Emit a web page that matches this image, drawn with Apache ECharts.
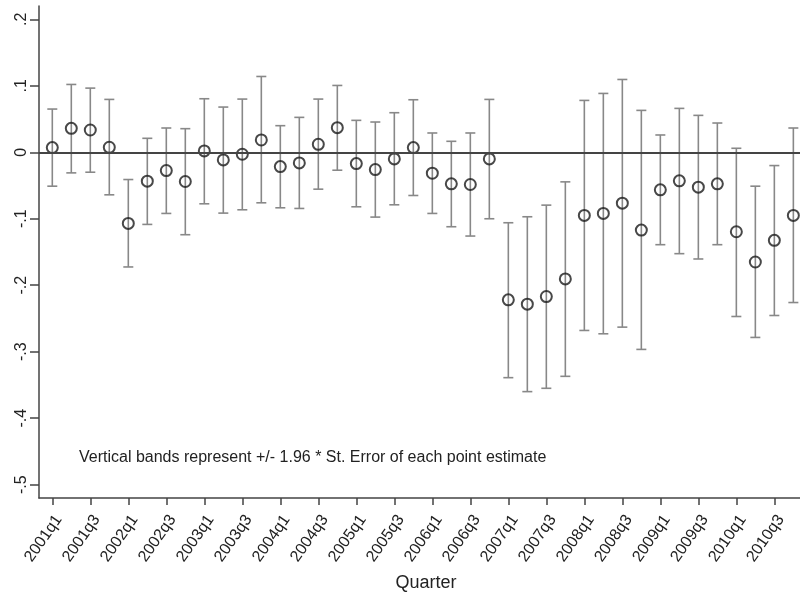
<!DOCTYPE html>
<html>
<head>
<meta charset="utf-8">
<script src="https://cdn.jsdelivr.net/npm/echarts@6/dist/echarts.min.js"></script>
<style>
  html, body { margin: 0; padding: 0; background: #fff; }
  #chart { width: 800px; height: 595px; }
</style>
</head>
<body>
<div id="chart"></div>
<script>
// quarters 2001q1 .. 2010q4
const quarters = [];
for (let y = 2001; y <= 2010; y++) {
  for (let q = 1; q <= 4; q++) quarters.push(y + "q" + q);
}

// point estimates
const estimates = [
  0.007, 0.036, 0.0335, 0.0075, -0.107, -0.0435, -0.0275, -0.044, 0.002, -0.0115,
  -0.003, 0.0185, -0.0215, -0.016, 0.012, 0.037, -0.017, -0.026, -0.010, 0.007,
  -0.0315, -0.0475, -0.0485, -0.010, -0.222, -0.2285, -0.217, -0.1905, -0.095, -0.092,
  -0.0765, -0.117, -0.0565, -0.043, -0.0525, -0.0475, -0.1195, -0.165, -0.1325, -0.095
];
// upper ends of the bands
const upper = [
  0.065, 0.102, 0.0965, 0.0795, -0.041, 0.021, 0.0365, 0.0355, 0.0805, 0.068,
  0.080, 0.114, 0.040, 0.0525, 0.080, 0.1005, 0.048, 0.0455, 0.0595, 0.079,
  0.029, 0.0165, 0.029, 0.0795, -0.106, -0.097, -0.0795, -0.0445, 0.078, 0.0885,
  0.1095, 0.063, 0.026, 0.066, 0.0555, 0.044, 0.006, -0.051, -0.020, 0.0365
];
// lower ends of the bands
const lower = [
  -0.051, -0.031, -0.030, -0.064, -0.1725, -0.1085, -0.092, -0.124, -0.0775, -0.0915,
  -0.0865, -0.076, -0.0835, -0.0845, -0.0555, -0.027, -0.082, -0.0975, -0.079, -0.065,
  -0.092, -0.112, -0.126, -0.100, -0.339, -0.360, -0.355, -0.337, -0.268, -0.273,
  -0.263, -0.2965, -0.139, -0.1525, -0.1605, -0.139, -0.247, -0.2785, -0.2455, -0.226
];

const yTicks = [-0.5, -0.4, -0.3, -0.2, -0.1, 0, 0.1, 0.2];
const xTicks = quarters.map((q, i) => i).filter(i => i % 2 === 0);

function fmtY(v) {
  if (Math.abs(v) < 1e-9) return "0";
  return v.toFixed(1).replace("0.", ".");
}

const chart = echarts.init(document.getElementById("chart"));

const options = {
  animation: false,
  backgroundColor: "#fff",
  textStyle: { fontFamily: "Liberation Sans, Arial, sans-serif" },
  grid: { left: 39, right: 0, top: 6, bottom: 97, containLabel: false, outerBoundsMode: "none" },
  xAxis: {
    type: "value",
    min: -0.7,
    max: 39.35,
    name: "Quarter",
    nameLocation: "middle",
    nameGap: 76,
    nameTextStyle: { fontSize: 18, color: "#222", padding: [0, 0, 0, 13] },
    axisLine: { show: true, onZero: false, lineStyle: { color: "#444", width: 1.5 } },
    axisTick: { show: true, length: 7, customValues: xTicks, lineStyle: { color: "#444", width: 1.5 } },
    axisLabel: {
      customValues: xTicks,
      rotate: 55,
      margin: 14,
      verticalAlign: "top",
      fontSize: 16,
      color: "#222",
      formatter: v => quarters[Math.round(v)]
    },
    splitLine: { show: false }
  },
  yAxis: {
    type: "value",
    min: -0.52,
    max: 0.22,
    axisLine: { show: true, onZero: false, lineStyle: { color: "#444", width: 1.5 } },
    axisTick: { show: true, length: 9, customValues: yTicks, lineStyle: { color: "#444", width: 1.5 } },
    axisLabel: {
      customValues: yTicks,
      rotate: 90,
      margin: 9,
      fontSize: 16,
      color: "#222",
      formatter: fmtY
    },
    splitLine: { show: false }
  },
  graphic: [
    {
      type: "text",
      left: 79,
      top: 450,
      style: {
        text: "Vertical bands represent +/- 1.96 * St. Error of each point estimate",
        fontSize: 16,
        fill: "#222",
        fontFamily: "Liberation Sans, Arial, sans-serif"
      }
    }
  ],
  series: [
    {
      type: "custom",
      z: 2,
      data: quarters.map((q, i) => [i, lower[i], upper[i]]),
      renderItem: function (params, api) {
        const lo = api.coord([api.value(0), api.value(1)]);
        const hi = api.coord([api.value(0), api.value(2)]);
        const hw = 5;
        const style = { stroke: "#888", lineWidth: 1.6, fill: null };
        return {
          type: "group",
          children: [
            { type: "line", shape: { x1: lo[0], y1: lo[1], x2: hi[0], y2: hi[1] }, style: style },
            { type: "line", shape: { x1: hi[0] - hw, y1: hi[1], x2: hi[0] + hw, y2: hi[1] }, style: style },
            { type: "line", shape: { x1: lo[0] - hw, y1: lo[1], x2: lo[0] + hw, y2: lo[1] }, style: style }
          ]
        };
      }
    },
    {
      type: "scatter",
      z: 3,
      symbol: "circle",
      symbolSize: 11,
      itemStyle: { color: "rgba(255,255,255,0)", borderColor: "#1a1a1a", borderWidth: 2 },
      data: quarters.map((q, i) => [i, estimates[i]]),
      markLine: {
        silent: true,
        symbol: "none",
        label: { show: false },
        lineStyle: { color: "#444", width: 2, type: "solid" },
        data: [{ yAxis: 0 }]
      }
    }
  ]
};

chart.setOption(options);
</script>
</body>
</html>
